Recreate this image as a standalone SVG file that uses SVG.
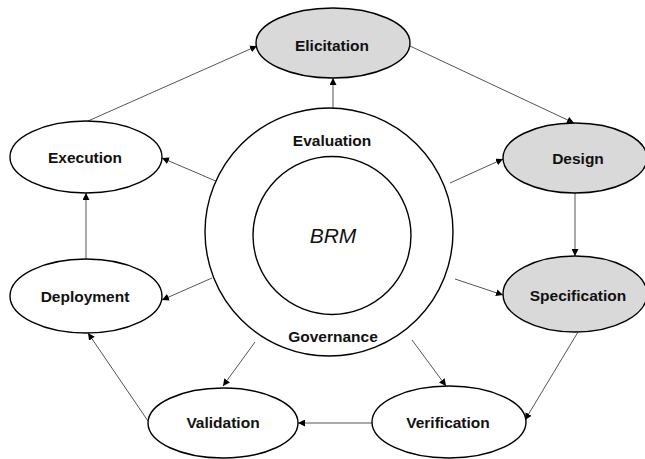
<svg xmlns="http://www.w3.org/2000/svg" width="645" height="459" viewBox="0 0 645 459">
<style>
.node{stroke:#000;stroke-width:1.4}
.white{fill:#fff}
.gray{fill:#d9d9d9}
.lbl{font-family:"Liberation Sans",Arial,sans-serif;font-weight:bold;font-size:15.5px;fill:#111;text-anchor:middle}
.brm{font-family:"Liberation Sans",Arial,sans-serif;font-style:italic;font-size:21px;fill:#111;text-anchor:middle}
.conn line{stroke:#555;stroke-width:1;marker-end:url(#ah)}
</style>
<defs>
<marker id="ah" viewBox="0 0 10 10" refX="10" refY="5" markerWidth="7" markerHeight="7" markerUnits="userSpaceOnUse" orient="auto">
<path d="M0,0 L10,5 L0,10 z" fill="#000"/>
</marker>
</defs>
<rect width="645" height="459" fill="#fff"/>
<g id="connectors" class="conn">
<line x1="88" y1="121" x2="257" y2="46"/>
<line x1="410" y1="46" x2="574" y2="123"/>
<line x1="333" y1="108" x2="333" y2="78"/>
<line x1="218" y1="182" x2="162" y2="158"/>
<line x1="450" y1="183" x2="503" y2="159"/>
<line x1="575" y1="193" x2="575" y2="256"/>
<line x1="455" y1="279" x2="503" y2="295"/>
<line x1="578" y1="332" x2="525" y2="420"/>
<line x1="212" y1="278" x2="162" y2="300"/>
<line x1="86" y1="259" x2="86" y2="193"/>
<line x1="148" y1="421" x2="88" y2="333"/>
<line x1="372" y1="423" x2="298" y2="423"/>
<line x1="255" y1="342" x2="223" y2="386"/>
<line x1="412" y1="340" x2="446" y2="386"/>
</g>
<g id="core">
<circle cx="329" cy="232" r="124" class="node white"/>
<circle cx="332" cy="235.5" r="79" class="node white"/>
<text x="332" y="145.5" class="lbl">Evaluation</text>
<text x="333" y="341.5" class="lbl">Governance</text>
<text x="333" y="243" class="brm">BRM</text>
</g>
<g id="elicitation">
<ellipse cx="333" cy="43" rx="77" ry="35" class="node gray"/>
<text x="332" y="50.5" class="lbl">Elicitation</text>
</g>
<g id="design">
<ellipse cx="575" cy="158" rx="72" ry="35" class="node gray"/>
<text x="578" y="163.5" class="lbl">Design</text>
</g>
<g id="specification">
<ellipse cx="575" cy="294" rx="72" ry="38" class="node gray"/>
<text x="578" y="300.5" class="lbl">Specification</text>
</g>
<g id="execution">
<ellipse cx="86" cy="157" rx="76" ry="36" class="node white"/>
<text x="85" y="162.5" class="lbl">Execution</text>
</g>
<g id="deployment">
<ellipse cx="86" cy="296" rx="76" ry="37" class="node white"/>
<text x="85" y="301.5" class="lbl">Deployment</text>
</g>
<g id="validation">
<ellipse cx="223" cy="423" rx="75" ry="35" class="node white"/>
<text x="223" y="427.5" class="lbl">Validation</text>
</g>
<g id="verification">
<ellipse cx="449" cy="422" rx="77" ry="36" class="node white"/>
<text x="448" y="427.5" class="lbl">Verification</text>
</g>
</svg>
